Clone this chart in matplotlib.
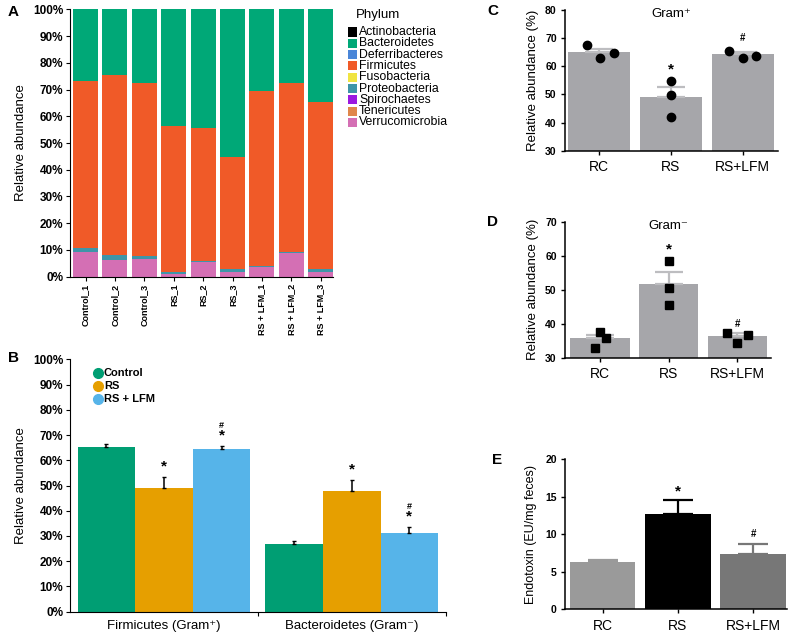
import matplotlib
matplotlib.use("Agg")
import matplotlib.pyplot as plt
from matplotlib.patches import Rectangle
from matplotlib.lines import Line2D
import numpy as np

plt.rcParams['font.family'] = ['Liberation Sans', 'DejaVu Sans']

W, H = 795, 636

# ---------------- Data ----------------
samples = ["Control_1", "Control_2", "Control_3", "RS_1", "RS_2", "RS_3",
           "RS + LFM_1", "RS + LFM_2", "RS + LFM_3"]
phyla = ["Actinobacteria", "Bacteroidetes", "Deferribacteres", "Firmicutes",
         "Fusobacteria", "Proteobacteria", "Spirochaetes", "Tenericutes",
         "Verrucomicrobia"]
phyla_colors = ["#000000", "#00A877", "#4A86D8", "#F05A28", "#F0E442",
                "#3E95A8", "#9B19E0", "#E0874B", "#D46FB4"]
actinobacteria = [0.0, 0.0, 0.0, 0.0, 0.0, 0.0, 0.0, 0.0, 0.0]
bacteroidetes = [26.8, 24.6, 27.7, 43.5, 44.3, 55.4, 30.4, 27.6, 34.7]
deferribacteres = [0.0, 0.0, 0.0, 0.0, 0.0, 0.0, 0.0, 0.0, 0.0]
firmicutes = [62.6, 67.2, 64.4, 54.8, 50.0, 41.9, 65.5, 63.3, 62.6]
fusobacteria = [0.0, 0.0, 0.0, 0.0, 0.0, 0.0, 0.0, 0.0, 0.0]
proteobacteria = [1.2, 2.0, 1.3, 0.7, 0.3, 0.8, 0.4, 0.4, 0.8]
spirochaetes = [0.0, 0.0, 0.0, 0.0, 0.0, 0.0, 0.0, 0.0, 0.0]
tenericutes = [0.0, 0.0, 0.0, 0.0, 0.0, 0.0, 0.0, 0.0, 0.0]
verrucomicrobia = [9.4, 6.2, 6.6, 1.0, 5.4, 1.9, 3.7, 8.7, 1.9]

b_groups = ["Firmicutes (Gram\u207a)", "Bacteroidetes (Gram\u207b)"]
b_series = ["Control", "RS", "RS + LFM"]
b_colors = ["#009E73", "#E69F00", "#56B4E9"]
b_control = [65.1, 26.7]
b_rs = [49.1, 48.0]
b_lfm = [64.5, 31.0]
b_control_err = [1.5, 1.2]
b_rs_err = [4.2, 4.0]
b_lfm_err = [1.0, 2.4]

groups3 = ["RC", "RS", "RS+LFM"]
c_means = [65.2, 49.2, 64.4]
c_err = [1.1, 3.5, 0.7]
c_points = [[67.6, 63.1, 64.8], [54.9, 49.8, 41.8], [65.4, 63.1, 63.6]]
d_means = [35.7, 51.6, 36.4]
d_err = [1.0, 3.7, 0.8]
d_points = [[32.9, 37.6, 35.7], [58.4, 50.4, 45.4], [37.2, 34.4, 36.7]]
e_means = [6.27, 12.76, 7.33]
e_err = [0.25, 1.85, 1.35]
e_colors = ["#9A9A9A", "#000000", "#777777"]


def fig_ax(left, top, right, bottom):
    return fig.add_axes([left / W, 1 - bottom / H, (right - left) / W, (bottom - top) / H])


fig = plt.figure(figsize=(W / 100, H / 100), dpi=100)

# ---------------- Panel A ----------------
axA = fig_ax(70, 9.3, 333, 276.7)
x = np.arange(len(samples))
stack_order = [("Verrucomicrobia", verrucomicrobia), ("Tenericutes", tenericutes),
               ("Spirochaetes", spirochaetes), ("Proteobacteria", proteobacteria),
               ("Fusobacteria", fusobacteria), ("Firmicutes", firmicutes),
               ("Deferribacteres", deferribacteres), ("Bacteroidetes", bacteroidetes),
               ("Actinobacteria", actinobacteria)]
bottom = np.zeros(len(samples))
for name, vals in stack_order:
    vals = np.array(vals)
    axA.bar(x, vals, bottom=bottom, width=0.85, color=phyla_colors[phyla.index(name)],
            linewidth=0)
    bottom += vals
axA.set_xlim(-0.53, 8.42)
axA.set_ylim(0, 100)
axA.set_yticks(np.arange(0, 101, 10))
axA.set_yticklabels([f"{v}%" for v in range(0, 101, 10)], fontsize=8.5, fontweight='bold')
axA.set_xticks(x)
axA.set_xticklabels(samples, rotation=90, fontsize=6.5, fontweight='bold')
axA.tick_params(axis='both', length=3, width=0.8, pad=2)
for s in ['top', 'right']:
    axA.spines[s].set_visible(False)
axA.set_ylabel("Relative abundance", fontsize=9.5, labelpad=4)

# legend for A
fig.text(378 / W, 1 - 15 / H, "Phylum", fontsize=9.5, ha='center', va='center')
for i, (name, col) in enumerate(zip(phyla, phyla_colors)):
    yc = 32 + i * 11.3
    fig.add_artist(Rectangle((348 / W, 1 - (yc + 4.5) / H), 9 / W, 9 / H,
                             transform=fig.transFigure, color=col, lw=0))
    fig.text(359 / W, 1 - yc / H, name, fontsize=8.8, ha='left', va='center')

# ---------------- Panel B ----------------
axB = fig_ax(70, 359.3, 445.7, 611.7)
xg = np.arange(len(b_groups))
bw = 0.3066
for k, (vals, errs, col) in enumerate(zip([b_control, b_rs, b_lfm],
                                          [b_control_err, b_rs_err, b_lfm_err], b_colors)):
    pos = xg + (k - 1) * bw
    axB.bar(pos, vals, width=bw, color=col, linewidth=0)
    axB.errorbar(pos, vals, yerr=[np.zeros(len(vals)), errs], fmt='none', ecolor='black',
                 elinewidth=1.1, capsize=1.2, capthick=1.0)
# significance marks
for k, marks in [(1, ["*", "*"]), (2, ["*", "*"])]:
    vals = [b_rs, b_lfm][k - 1]
    errs = [b_rs_err, b_lfm_err][k - 1]
    for g in range(2):
        pos = xg[g] + (k - 1) * bw
        top = vals[g] + errs[g]
        axB.text(pos, top + 1.5, "*", ha='center', va='bottom', fontsize=11, fontweight='bold')
        if k == 2:
            axB.text(pos, top + 6.5, "#", ha='center', va='bottom', fontsize=6.5, fontweight='bold')
axB.set_xlim(-0.5, 1.5)
axB.set_ylim(0, 100)
axB.set_yticks(np.arange(0, 101, 10))
axB.set_yticklabels([f"{v}%" for v in range(0, 101, 10)], fontsize=8.5, fontweight='bold')
axB.set_xticks(xg)
axB.set_xticklabels(b_groups, fontsize=9.5)
axB.tick_params(axis='x', length=0, pad=6)
axB.set_xticks([0.5, 1.5], minor=True)
axB.tick_params(axis='x', which='minor', length=3, width=0.8)
axB.tick_params(axis='y', length=3, width=0.8, pad=2)
for s in ['top', 'right']:
    axB.spines[s].set_visible(False)
axB.set_ylabel("Relative abundance", fontsize=9.5, labelpad=4)
for i, (name, col) in enumerate(zip(b_series, b_colors)):
    yc = 372.7 + i * 13.2
    fig.add_artist(Line2D([98 / W], [1 - yc / H], marker='o', markersize=7, color=col,
                          linestyle='none', transform=fig.transFigure))
    fig.text(104 / W, 1 - yc / H, name, fontsize=8, fontweight='bold', ha='left', va='center')

# ---------------- Panels C, D ----------------
gray_bar = "#A6A6AA"
gray_err = "#BDBDC0"


def scatter_panel(ax, means, errs, points, offsets, marker, title, ylim, yticks, xlim,
                  star_y, hash_y):
    xx = np.arange(3)
    ax.bar(xx, means, width=0.86, color=gray_bar, linewidth=0, zorder=1)
    ax.errorbar(xx, means, yerr=[np.zeros(3), errs], fmt='none', ecolor=gray_err,
                elinewidth=1.6, capsize=10, capthick=1.6, zorder=2)
    for i in range(3):
        ax.plot(xx[i] + np.array(offsets[i]), points[i], linestyle='none', marker=marker,
                color='black', markersize=6 if marker == 'o' else 5.3, zorder=3)
    ax.text(1, star_y, "*", ha='center', va='center', fontsize=11, fontweight='bold')
    ax.text(2, hash_y, "#", ha='center', va='center', fontsize=7, fontweight='bold')
    ax.set_xlim(*xlim)
    ax.set_ylim(*ylim)
    ax.set_yticks(yticks)
    ax.set_yticklabels([str(v) for v in yticks], fontsize=7.5, fontweight='bold')
    ax.set_xticks(xx)
    ax.set_xticklabels(groups3, fontsize=10)
    ax.tick_params(axis='y', length=3, width=1.0, pad=3)
    ax.tick_params(axis='x', length=3, width=1.0, pad=4)
    for s in ['top', 'right']:
        ax.spines[s].set_visible(False)
    for s in ['left', 'bottom']:
        ax.spines[s].set_linewidth(1.1)
    ax.set_title(title, fontsize=9.5, pad=-3, y=1.0, va='center')
    ax.set_ylabel("Relative abundance (%)", fontsize=9.5, labelpad=4)


axC = fig_ax(565, 10, 778, 150.7)
scatter_panel(axC, c_means, c_err, c_points,
              [[-0.16, 0.02, 0.21], [0, 0, 0], [-0.19, 0, 0.18]], 'o', "Gram\u207a",
              (30, 80), [30, 40, 50, 60, 70, 80], (-0.47, 2.49), 58.7, 69.9)

axD = fig_ax(565, 221.7, 771, 357.7)
scatter_panel(axD, d_means, d_err, d_points,
              [[-0.07, 0, 0.08], [0, 0, 0], [-0.15, 0, 0.15]], 's', "Gram\u207b",
              (30, 70), [30, 40, 50, 60, 70], (-0.51, 2.49), 61.7, 39.9)

# ---------------- Panel E ----------------
axE = fig_ax(565, 459.3, 787, 609.3)
xx = np.arange(3)
axE.bar(xx, e_means, width=0.87, color=e_colors, linewidth=0)
for i in range(3):
    axE.errorbar(xx[i], e_means[i], yerr=[[0], [e_err[i]]], fmt='none', ecolor=e_colors[i],
                 elinewidth=1.6, capsize=10.5, capthick=1.6)
axE.text(1, 15.7, "*", ha='center', va='center', fontsize=11, fontweight='bold')
axE.text(2, 10.0, "#", ha='center', va='center', fontsize=7, fontweight='bold')
axE.set_xlim(-0.5, 2.45)
axE.set_ylim(0, 20)
axE.set_yticks([0, 5, 10, 15, 20])
axE.set_yticklabels(["0", "5", "10", "15", "20"], fontsize=7.5, fontweight='bold')
axE.set_xticks(xx)
axE.set_xticklabels(groups3, fontsize=10)
axE.tick_params(axis='y', length=3, width=1.0, pad=3)
axE.tick_params(axis='x', length=3, width=1.0, pad=4)
for s in ['top', 'right']:
    axE.spines[s].set_visible(False)
for s in ['left', 'bottom']:
    axE.spines[s].set_linewidth(1.1)
axE.set_ylabel("Endotoxin (EU/mg feces)", fontsize=9, labelpad=6)

# panel letters
for letter, px, py in [("A", 8, 12), ("B", 8, 358), ("C", 487, 11), ("D", 487, 222), ("E", 492, 460)]:
    fig.text(px / W, 1 - py / H, letter, fontsize=11, fontweight='bold', ha='left', va='center')

fig.savefig("out.png", dpi=100)
